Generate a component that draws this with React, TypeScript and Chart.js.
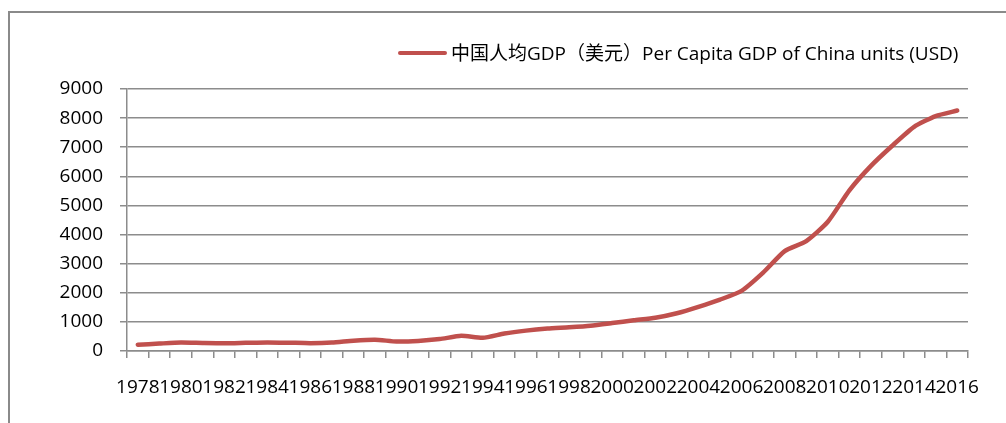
import React, { useEffect, useRef } from "react";
import { Chart, registerables } from "chart.js";

Chart.register(...registerables);

const years: string[] = [
  "1978", "1979", "1980", "1981", "1982", "1983", "1984", "1985", "1986", "1987",
  "1988", "1989", "1990", "1991", "1992", "1993", "1994", "1995", "1996", "1997",
  "1998", "1999", "2000", "2001", "2002", "2003", "2004", "2005", "2006", "2007",
  "2008", "2009", "2010", "2011", "2012", "2013", "2014", "2015", "2016",
];

const gdpPerCapita: number[] = [
  215, 255, 290, 275, 265, 280, 295, 285, 270, 290,
  355, 390, 325, 345, 410, 520, 455, 600, 700, 770,
  815, 870, 960, 1055, 1140, 1295, 1515, 1765, 2065, 2690,
  3430, 3775, 4440, 5520, 6360, 7060, 7700, 8070, 8260,
];

const seriesLabel = "中国人均GDP（美元）Per Capita GDP of China units (USD)";
const yMin = 0;
const yMax = 9000;
const yStep = 1000;

const FONT = "'Open Sans', 'Noto Sans CJK SC', sans-serif";
const LINE_COLOR = "#C0504D";
const GRID_COLOR = "#8c8c8c";

export default function App() {
  const canvasRef = useRef<HTMLCanvasElement | null>(null);

  useEffect(() => {
    if (!canvasRef.current) return;
    const chart = new Chart(canvasRef.current, {
      type: "line",
      data: {
        labels: years,
        datasets: [
          {
            label: seriesLabel,
            data: gdpPerCapita,
            borderColor: LINE_COLOR,
            backgroundColor: LINE_COLOR,
            borderWidth: 4.5,
            pointRadius: 0,
            tension: 0.2,
            borderCapStyle: "round",
            borderJoinStyle: "round",
          },
        ],
      },
      options: {
        animation: false,
        responsive: false,
        maintainAspectRatio: false,
        layout: { padding: { top: 89, right: 38, bottom: 0, left: 0 } },
        plugins: {
          legend: { display: false },
          tooltip: { enabled: false },
        },
        scales: {
          x: {
            type: "category",
            offset: true,
            afterFit: (s: any) => {
              s.height = 72;
            },
            grid: {
              offset: true,
              drawOnChartArea: false,
              drawTicks: true,
              tickLength: 7,
              color: GRID_COLOR,
              lineWidth: 1.5,
            },
            border: { display: true, color: GRID_COLOR, width: 1.5 },
            ticks: {
              autoSkip: false,
              maxRotation: 0,
              minRotation: 0,
              padding: 18,
              color: "#000",
              font: { family: FONT, size: 19 },
              callback: function (this: any, _v: any, i: number) {
                return i % 2 === 0 ? years[i] : "";
              },
            },
          },
          y: {
            min: yMin,
            max: yMax,
            afterFit: (s: any) => {
              s.width = 127;
            },
            grid: {
              drawTicks: true,
              tickLength: 7,
              color: GRID_COLOR,
              lineWidth: 1.5,
            },
            border: { display: true, color: GRID_COLOR, width: 1.5 },
            ticks: {
              stepSize: yStep,
              padding: 17,
              color: "#000",
              font: { family: FONT, size: 19 },
              callback: (v: any) => String(v),
            },
          },
        },
      },
    });
    return () => chart.destroy();
  }, []);

  return (
    <div
      style={{
        position: "fixed",
        left: 0,
        top: 0,
        width: 1006,
        height: 423,
        overflow: "hidden",
        background: "#fff",
      }}
    >
      <div
        style={{
          position: "absolute",
          left: 8,
          top: 11,
          width: 1100,
          height: 500,
          borderTop: "2px solid #8a8a8a",
          borderLeft: "2px solid #8a8a8a",
        }}
      />
      <canvas
        ref={canvasRef}
        width={1006}
        height={423}
        style={{ position: "absolute", left: 0, top: 0, width: 1006, height: 423 }}
      />
      <div
        style={{
          position: "absolute",
          left: 398,
          top: 51,
          width: 49,
          height: 4,
          borderRadius: 2,
          background: LINE_COLOR,
        }}
      />
      <div
        style={{
          position: "absolute",
          left: 451,
          top: 39,
          fontFamily: FONT,
          fontSize: 19,
          lineHeight: "28px",
          color: "#000",
          whiteSpace: "nowrap",
        }}
      >
        {seriesLabel}
      </div>
    </div>
  );
}
